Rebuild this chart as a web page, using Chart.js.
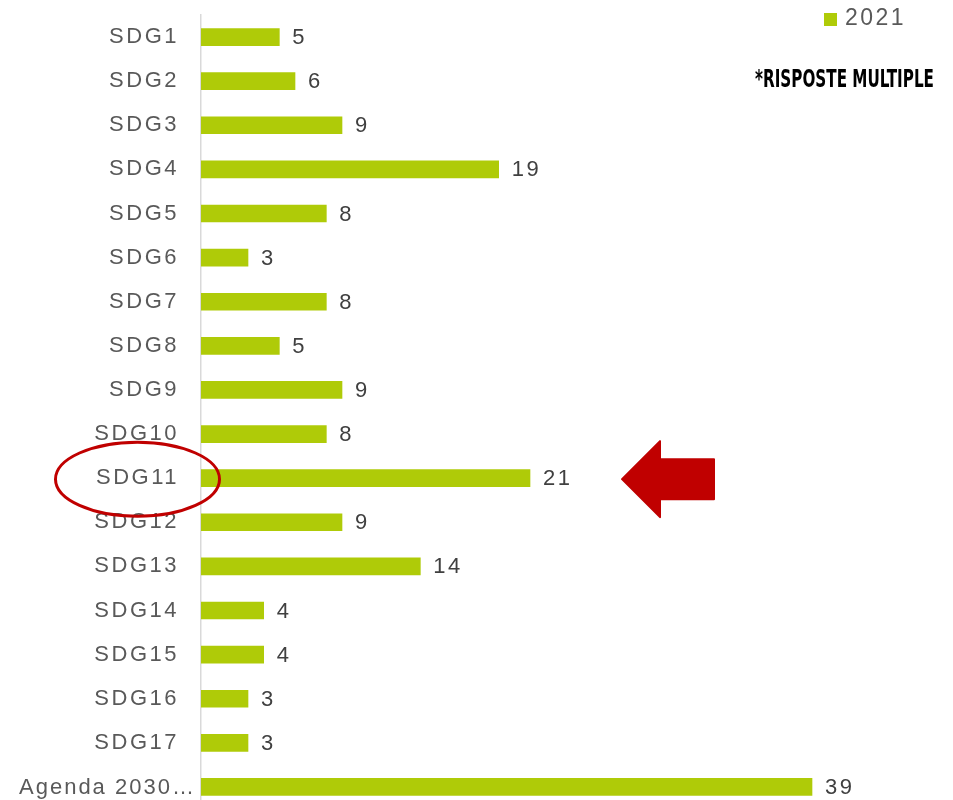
<!DOCTYPE html>
<html>
<head>
<meta charset="utf-8">
<script src="https://cdn.jsdelivr.net/npm/chart.js@4"></script>
<style>
  html, body { margin: 0; padding: 0; background: #fff; overflow: hidden; }
</style>
</head>
<body>
<canvas id="chart" width="953" height="820"></canvas>
<script>
const categories = ['SDG1', 'SDG2', 'SDG3', 'SDG4', 'SDG5', 'SDG6', 'SDG7', 'SDG8', 'SDG9',
  'SDG10', 'SDG11', 'SDG12', 'SDG13', 'SDG14', 'SDG15', 'SDG16', 'SDG17', 'Agenda 2030…'];
const values2021 = [5, 6, 9, 19, 8, 3, 8, 5, 9, 8, 21, 9, 14, 4, 4, 3, 3, 39];
const seriesLabel = '2021';
const noteText = '*RISPOSTE MULTIPLE';
const highlightIndex = 10; // SDG11
const longLabelIndex = 17; // truncated label, drawn left-aligned

const GREEN = '#AFCB08';
const RED = '#C00000';
const FONT = '"Liberation Sans", Arial, sans-serif';

// letter spacing to mimic the wider original font
const spacing = {
  id: 'spacing',
  beforeDraw(chart) {
    chart.ctx.letterSpacing = '2.5px';
  }
};

// value labels at the end of each bar
const valueLabels = {
  id: 'valueLabels',
  afterDatasetsDraw(chart) {
    const ctx = chart.ctx;
    const meta = chart.getDatasetMeta(0);
    ctx.save();
    ctx.letterSpacing = '2.5px';
    ctx.font = '22px ' + FONT;
    ctx.fillStyle = '#404040';
    ctx.textAlign = 'left';
    ctx.textBaseline = 'middle';
    meta.data.forEach((bar, i) => {
      ctx.fillText(String(chart.data.datasets[0].data[i]), bar.x + 13, bar.y + 1);
    });

    // the long category label starts at the left edge in the original
    ctx.fillStyle = '#595959';
    ctx.letterSpacing = '2px';
    ctx.fillText(categories[longLabelIndex], 19, chart.scales.y.getPixelForValue(longLabelIndex) + 1);
    ctx.restore();
  }
};

// legend, note, ellipse and arrow
const extras = {
  id: 'extras',
  afterDraw(chart) {
    const ctx = chart.ctx;
    const y = chart.scales.y;
    const cy = y.getPixelForValue(highlightIndex) + 1;

    ctx.save();
    // legend
    ctx.fillStyle = GREEN;
    ctx.fillRect(824, 13, 13, 13);
    ctx.letterSpacing = '2.5px';
    ctx.font = '23px ' + FONT;
    ctx.fillStyle = '#595959';
    ctx.textAlign = 'left';
    ctx.textBaseline = 'middle';
    ctx.fillText(seriesLabel, 845, 19);

    // note
    ctx.letterSpacing = '0px';
    ctx.font = 'bold 25px "Liberation Sans Narrow", "DejaVu Sans Condensed", sans-serif';
    ctx.fillStyle = '#000';
    ctx.textBaseline = 'alphabetic';
    const w = ctx.measureText(noteText).width;
    ctx.save();
    ctx.translate(755, 87);
    ctx.scale(179 / w, 1);
    ctx.fillText(noteText, 0, 0);
    ctx.restore();

    // ellipse round the highlighted label
    ctx.strokeStyle = RED;
    ctx.lineWidth = 3;
    ctx.beginPath();
    ctx.ellipse(137.5, cy, 82, 37, 0, 0, Math.PI * 2);
    ctx.stroke();

    // arrow pointing to the highlighted bar
    ctx.fillStyle = RED;
    ctx.strokeStyle = RED;
    ctx.lineWidth = 2;
    ctx.lineJoin = 'round';
    ctx.beginPath();
    ctx.moveTo(622, cy);
    ctx.lineTo(660, cy - 38);
    ctx.lineTo(660, cy - 20);
    ctx.lineTo(714, cy - 20);
    ctx.lineTo(714, cy + 20);
    ctx.lineTo(660, cy + 20);
    ctx.lineTo(660, cy + 38);
    ctx.closePath();
    ctx.fill();
    ctx.stroke();
    ctx.restore();
  }
};

new Chart(document.getElementById('chart').getContext('2d'), {
  type: 'bar',
  data: {
    labels: categories,
    datasets: [{
      label: seriesLabel,
      data: values2021,
      backgroundColor: GREEN,
      barThickness: 17
    }]
  },
  options: {
    indexAxis: 'y',
    responsive: false,
    animation: false,
    layout: { padding: { top: 15, right: 47, left: 0, bottom: 0 } },
    scales: {
      x: { display: false, min: 0, max: 45 },
      y: {
        grid: {
          display: true,
          drawOnChartArea: false,
          drawTicks: true,
          tickLength: 22,
          tickColor: 'rgba(0,0,0,0)'
        },
        border: { display: true, color: '#D9D9D9', width: 1.5 },
        ticks: {
          color: '#595959',
          padding: 0,
          font: { family: FONT, size: 22, lineHeight: 1 },
          callback(value, index) {
            return index === longLabelIndex ? '' : categories[index];
          }
        },
        afterFit(scale) { scale.width = 201; }
      }
    },
    plugins: {
      legend: { display: false },
      tooltip: { enabled: false }
    }
  },
  plugins: [spacing, valueLabels, extras]
});
</script>
</body>
</html>
